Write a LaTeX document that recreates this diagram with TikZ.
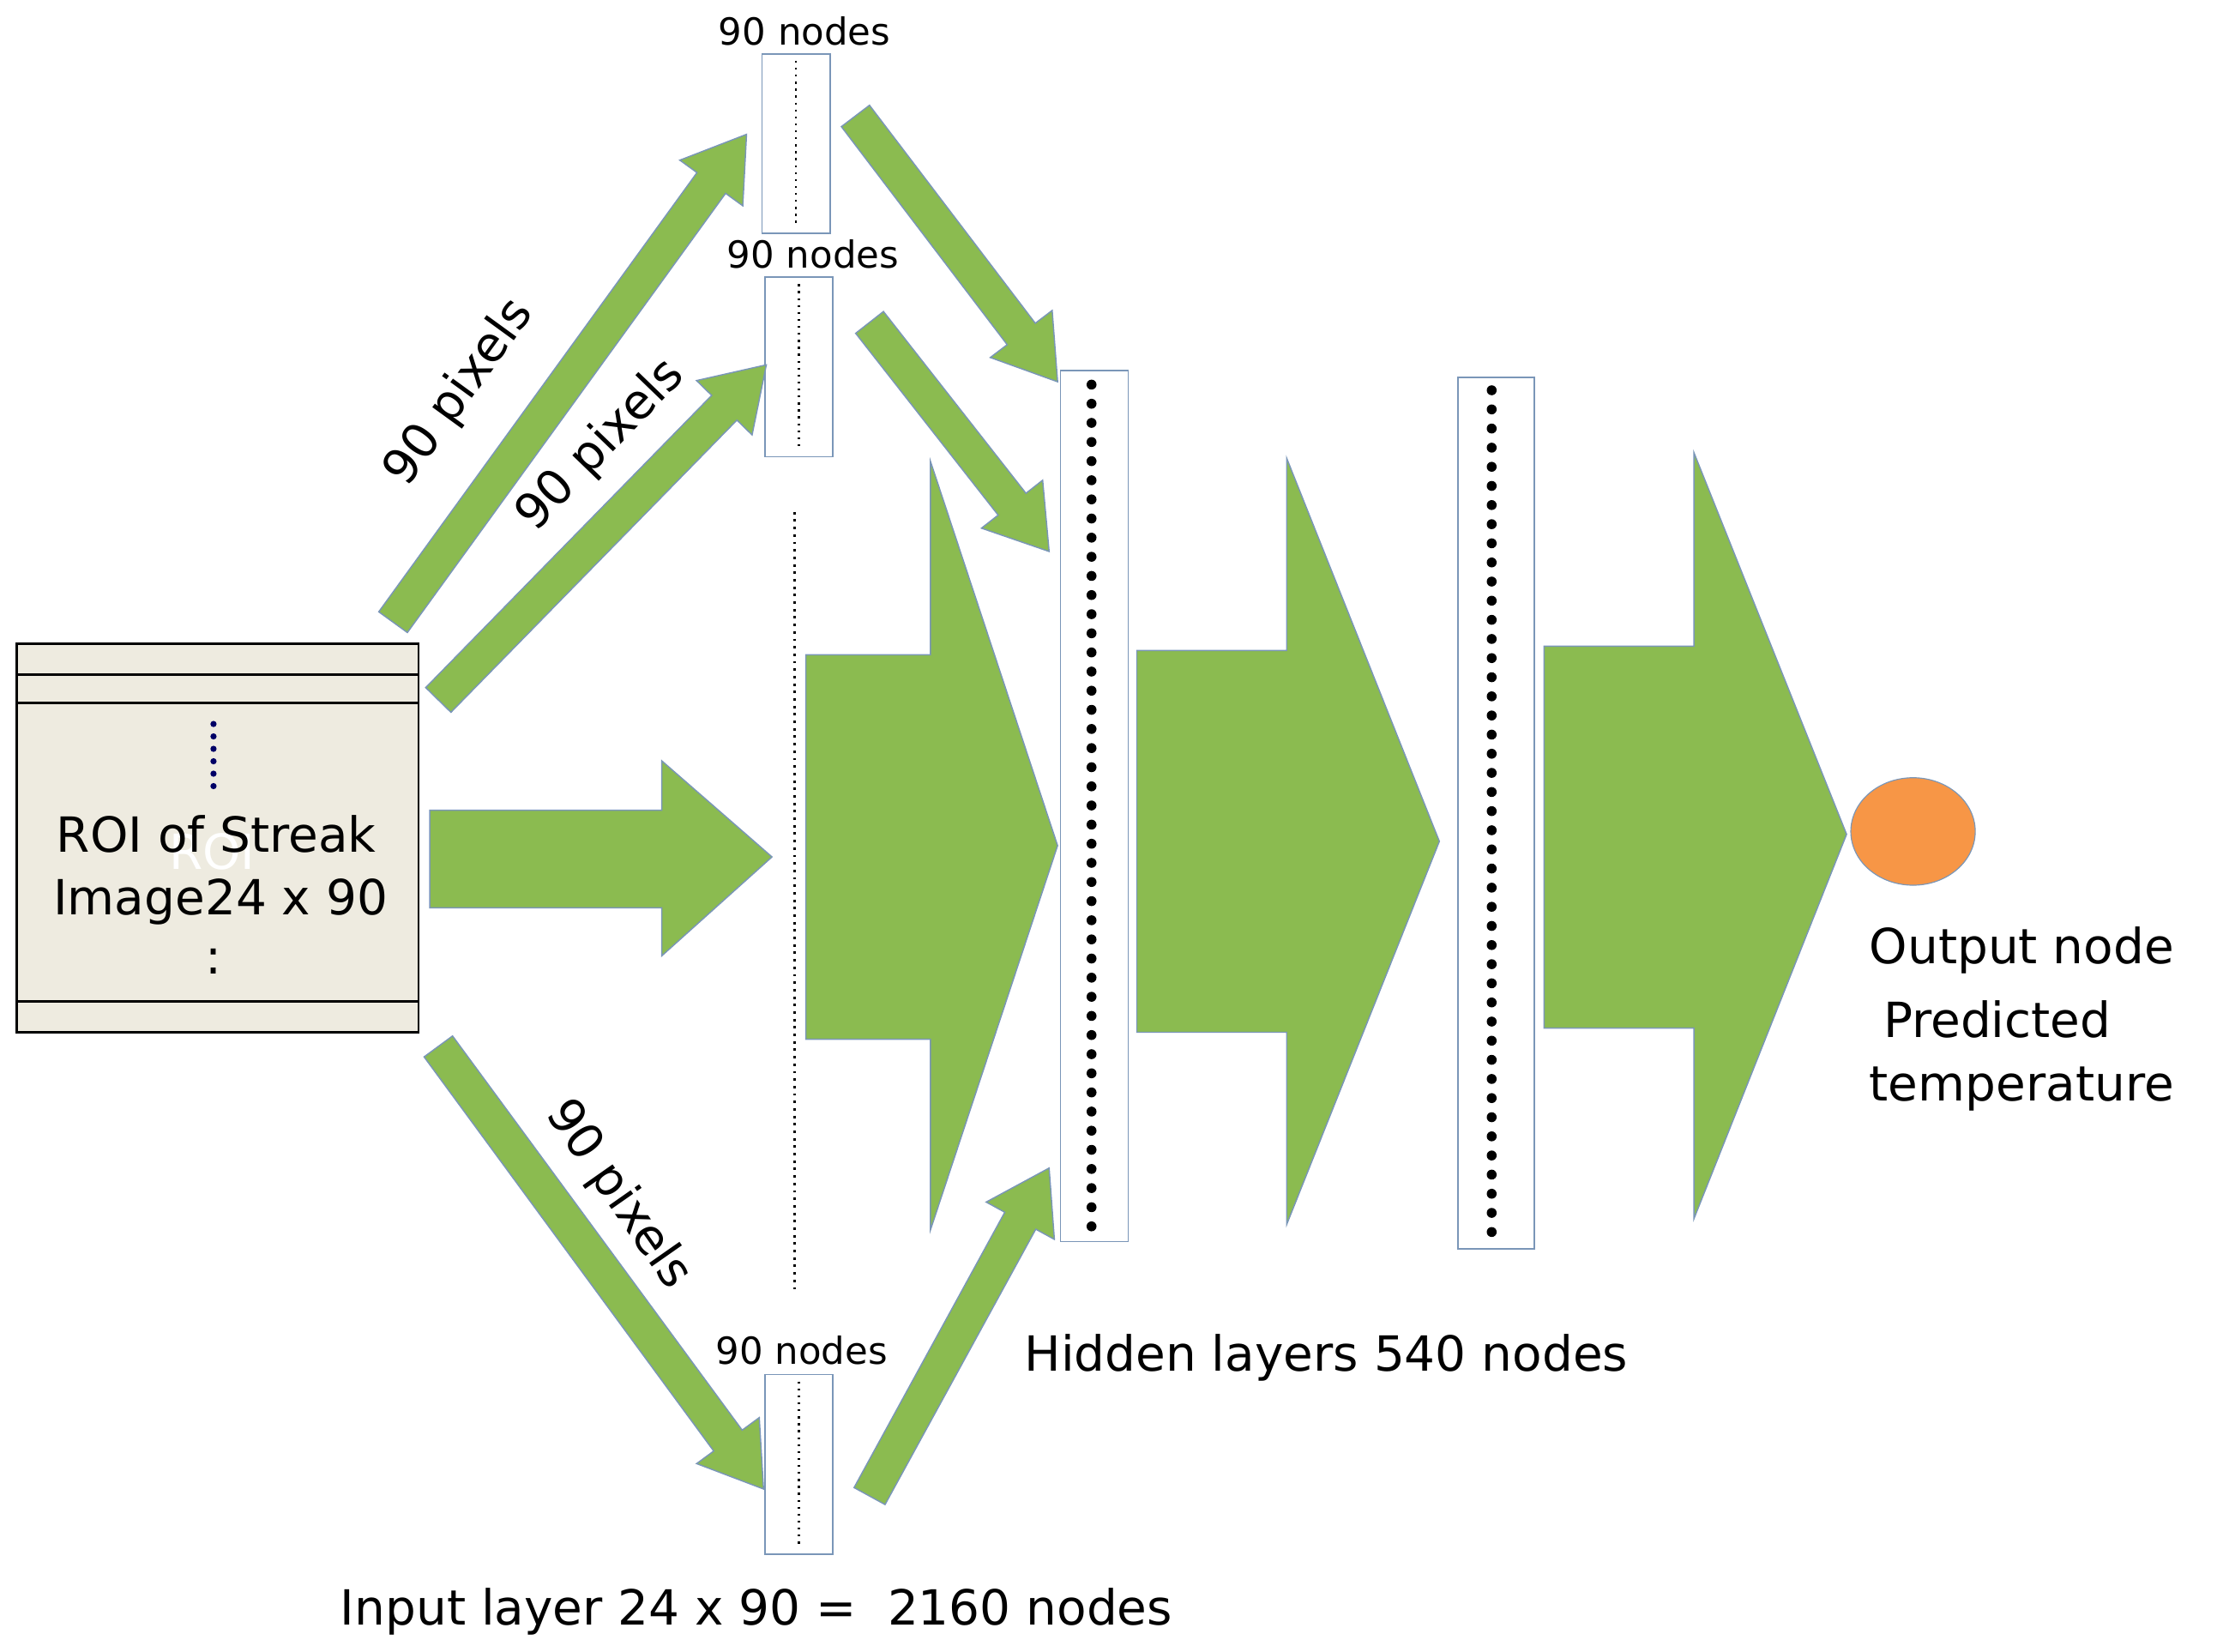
\documentclass[tikz,border=0pt]{standalone}
\usepackage{fontspec}
\setmainfont{DejaVu Sans}
\usetikzlibrary{calc,shapes.geometric}
\definecolor{leaf}{HTML}{8BBB50}
\definecolor{rim}{HTML}{7A96B8}
\definecolor{roifill}{HTML}{EEEBE0}
\definecolor{outnode}{HTML}{F79646}
\tikzset{
  flow/.style={fill=leaf, draw=rim, line width=0.5pt},
  layer/.style={draw=rim, fill=white, line width=0.6pt},
  lbl/.style={font=\fontsize{19.5}{24}\selectfont},
  small/.style={font=\fontsize{15}{19}\selectfont},
  bigdots/.style={line width=4pt, dash pattern=on 0pt off 7.7pt, line cap=round},
}
% slim arrow from #1 to tip #2
\newcommand\slimarrow[2]{%
  \coordinate (hb) at ($(#2)!0.85cm!(#1)$);
  \draw[flow] ($(#1)!0.25cm!90:(#2)$) -- ($(hb)!0.25cm!90:(#2)$) -- ($(hb)!0.55cm!90:(#2)$)
    -- (#2) -- ($(hb)!0.55cm!-90:(#2)$) -- ($(hb)!0.25cm!-90:(#2)$) -- ($(#1)!0.25cm!-90:(#2)$) -- cycle;}
% block arrow: x0 shaft start, x1 head start, x2 tip, shaft y range, head y range, tip y
\newcommand\blockarrow[8]{%
  \draw[flow] (#1,#4) -- (#2,#4) -- (#2,#6) -- (#3,#8) -- (#2,#7) -- (#2,#5) -- (#1,#5) -- cycle;}
\begin{document}
\begin{tikzpicture}[x=0.02cm,y=-0.02cm]
\useasboundingbox (0,0) rectangle (1568,1168);
% ROI box
\draw[fill=roifill, line width=1pt] (12,455) rectangle (296,730);
\draw[line width=1pt] (12,477) -- (296,477) (12,497) -- (296,497) (12,708) -- (296,708);
\draw[line width=2.5pt, dash pattern=on 0pt off 5pt, line cap=round, draw=blue!40!black] (151,512) -- (151,557);
\node[lbl, white] at (150,602) {ROI};
\node[lbl] (roi) at (153,590) {ROI of Streak};
\node[lbl] at (156,638) {Image24 x 90};
\node[lbl] at (151,680) {:};
% input layer columns
\foreach \n/\x/\y/\lx/\ly in {a/539/38/569/22, b/541/196/575/180, c/541/972/567/955}{
  \draw[layer] (\x,\y) rectangle (\x+48,\y+127);
  \draw[dotted, line width=0.8pt] (\x+24,\y+5) -- (\x+24,\y+122);
  \node[small] (lab\n) at (\lx,\ly) {90 nodes};
}
\draw[dotted, line width=1pt] (562,362) -- (562,915);
% hidden layers
\draw[layer] (750,262) rectangle (798,878);
\draw[bigdots] (772,272) -- (772,872);
\draw[layer] (1031,267) rectangle (1085,883);
\draw[bigdots] (1055,276) -- (1055,878);
% slim arrows
\coordinate (a0) at (278,440); \coordinate (a1) at (528,95);
\coordinate (b0) at (310,495); \coordinate (b1) at (542,258);
\coordinate (c0) at (310,740); \coordinate (c1) at (540,1053);
\coordinate (d0) at (615,1058); \coordinate (d1) at (742,826);
\coordinate (e0) at (605,82); \coordinate (e1) at (748,270);
\coordinate (f0) at (615,228); \coordinate (f1) at (742,390);
\slimarrow{a0}{a1}
\slimarrow{b0}{b1}
\slimarrow{c0}{c1}
\slimarrow{d0}{d1}
\slimarrow{e0}{e1}
\slimarrow{f0}{f1}
\node[lbl, rotate=54] at (325,278) {90 pixels};
\node[lbl, rotate=46] at (425,315) {90 pixels};
\node[lbl, rotate=-55] at (437,845) {90 pixels};
% block arrows
\blockarrow{304}{468}{546}{573}{642}{538}{676}{606}
\blockarrow{570}{658}{748}{463}{735}{326}{870}{598}
\blockarrow{804}{910}{1018}{460}{730}{324}{866}{595}
\blockarrow{1092}{1198}{1306}{457}{727}{320}{862}{590}
% output
\node[ellipse, fill=outnode, draw=rim, minimum width=88*0.02cm, minimum height=76*0.02cm] (out) at (1353,588) {};
\node[lbl, anchor=west] at (1316,672) {Output node};
\node[lbl, anchor=west] at (1326,721) {Predicted};
\node[lbl, anchor=west] at (1316,770) {temperature};
\node[lbl] at (938,960) {Hidden layers 540 nodes};
\node[lbl] at (535,1140) {Input layer 24 x 90 =\ \ 2160 nodes};
\end{tikzpicture}
\end{document}
